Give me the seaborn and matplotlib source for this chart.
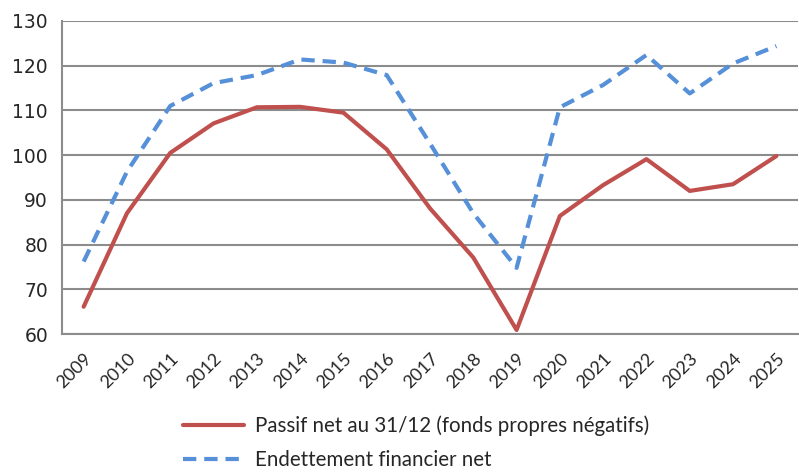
import numpy as np
import matplotlib.pyplot as plt
import seaborn as sns
import pandas as pd
from matplotlib.lines import Line2D

years = [str(y) for y in range(2009, 2026)]
passif_net = [66.1, 87.0, 100.5, 107.1, 110.7, 110.8, 109.5, 101.3, 88.1,
              77.1, 60.9, 86.4, 93.3, 99.1, 92.0, 93.5, 99.8]
endettement = [76.2, 96.3, 111.0, 116.1, 117.9, 121.4, 120.7, 117.9, 102.6,
               87.0, 74.8, 110.7, 115.7, 122.4, 113.8, 120.5, 124.4]
labels = ["Passif net au 31/12 (fonds propres négatifs)",
          "Endettement financier net"]

df = pd.DataFrame({
    "idx": list(range(len(years))) * 2,
    "value": passif_net + endettement,
    "serie": [labels[0]] * len(years) + [labels[1]] * len(years),
})

sns.set_style("white")
plt.rcParams['font.family'] = ['DejaVu Sans']

fig = plt.figure(figsize=(7.99, 4.72), dpi=100)
ax = fig.add_axes([62 / 799, 1 - 334 / 472, 736 / 799, 313 / 472])

sns.lineplot(data=df, x="idx", y="value", hue="serie", style="serie",
             palette=["#c0504d", "#5590d8"],
             dashes=[(None, None), (3.2, 1.9)],
             linewidth=3, ax=ax, legend=False)

ax.set_xlim(-0.5, 16.35)
ax.set_ylim(60, 130)
ax.set_yticks(range(60, 131, 10))
ax.yaxis.grid(True, color="#8c8c8c", linewidth=1.5)
ax.set_axisbelow(True)
for s in ["top", "right"]:
    ax.spines[s].set_visible(False)
for s in ["left", "bottom"]:
    ax.spines[s].set_color("#8c8c8c")
    ax.spines[s].set_linewidth(1.5)

ax.set_xticks(range(len(years)))
ax.set_xticklabels(years, rotation=45, ha="right", rotation_mode="anchor",
                   family="Lato", fontsize=13)
ax.set_xticks(np.arange(-0.5, len(years), 1), minor=True)
ax.tick_params(axis="x", which="major", length=0, pad=12)
ax.tick_params(axis="x", which="minor", length=6, width=1.5, color="#8c8c8c",
               direction="out")
ax.tick_params(axis="y", length=6, width=1.5, color="#8c8c8c", direction="out",
               labelsize=13.5, pad=4)
ax.set_xlabel("")
ax.set_ylabel("")

handles = [Line2D([], [], color="#c0504d", linewidth=3),
           Line2D([], [], color="#5590d8", linewidth=3, dashes=(3.2, 1.9))]
fig.legend(handles, labels, loc="upper left",
           bbox_to_anchor=(164 / 799, 1 - 397 / 472),
           frameon=False, prop={"family": "Lato", "size": 14.8},
           handlelength=3.0, handletextpad=0.55, labelspacing=0.7)

fig.savefig("out.png", dpi=100)
